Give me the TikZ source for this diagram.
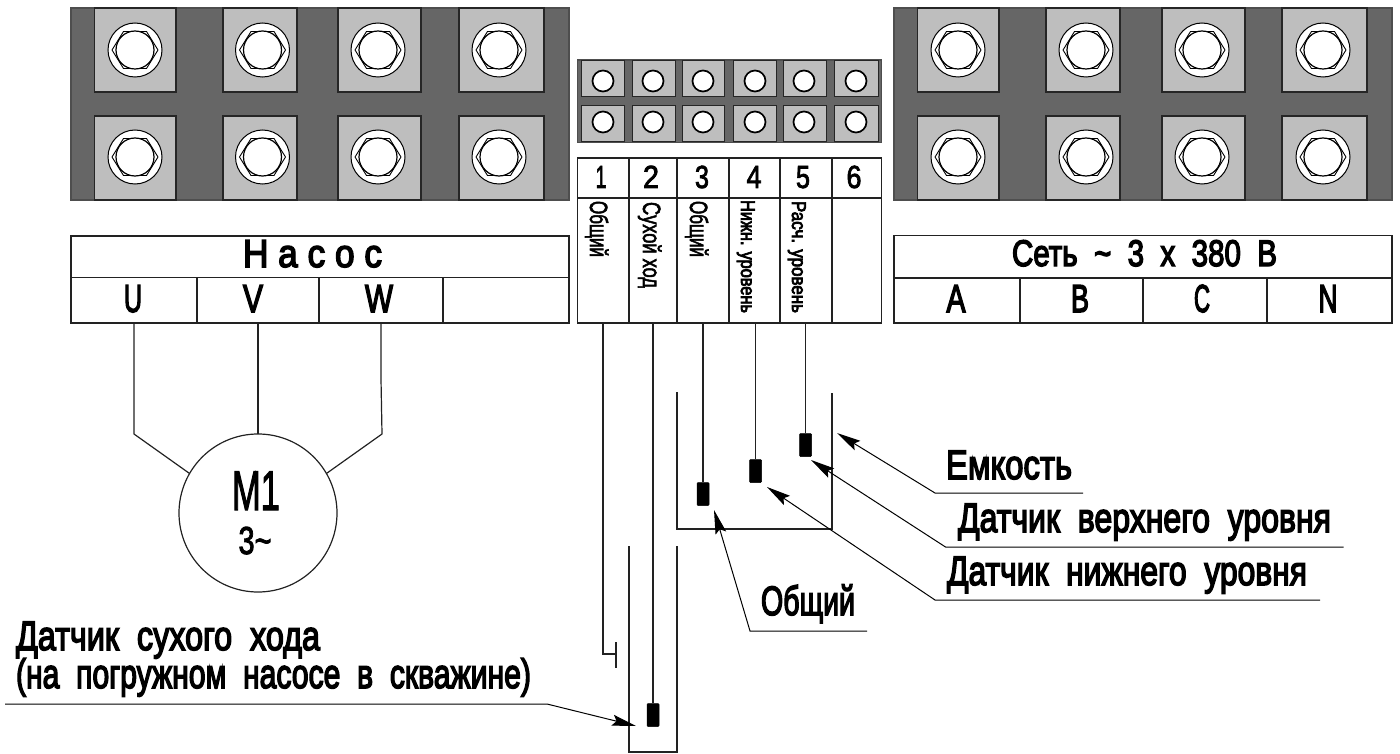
\documentclass[tikz,border=0pt]{standalone}
\usepackage{fontspec}
\usepackage{graphicx}
\setmainfont{Liberation Sans}
\newfontfamily\gost[FakeBold=4]{Liberation Sans}
\newfontfamily\gostthin[FakeBold=2.5]{Liberation Sans}
\usetikzlibrary{arrows.meta}
\definecolor{darkblock}{HTML}{666666}
\definecolor{lightpad}{HTML}{BEBEBE}
\definecolor{inkline}{HTML}{222222}
\tikzset{
  blockbody/.style={fill=darkblock,draw=inkline!80!white,line width=1.2pt},
  pad/.style={fill=lightpad,draw=black!85,line width=1.1pt},
  padsmall/.style={fill=lightpad,draw=black!85,line width=1pt},
  cellline/.style={draw=inkline,line width=1.2pt},
  wire/.style={draw=inkline,line width=1.2pt},
  leader/.style={draw=black,line width=1pt,-{Stealth[length=24pt,width=11pt,inset=4pt]},shorten >=0pt},
  sensor/.style={fill=black,draw=black,line width=0.5pt,rounded corners=1pt,inner sep=0pt,minimum width=12pt,minimum height=23pt},
  txt/.style={inner sep=0pt,outer sep=0pt,text=black},
}
\newcommand{\lblw}[7][]{\node[txt,anchor=base west,#1] (#2) at (#3,#4) {\resizebox{#5pt}{\height}{\fontsize{#6pt}{#6pt}\selectfont\gost #7}};}
\newcommand{\lblt}[7][]{\node[txt,anchor=base west,#1] (#2) at (#3,#4) {\resizebox{#5pt}{\height}{\fontsize{#6pt}{#6pt}\selectfont\gostthin #7}};}
\newcommand{\lblc}[7][]{\node[txt,anchor=base,#1] (#2) at (#3,#4) {\resizebox{#5pt}{\height}{\fontsize{#6pt}{#6pt}\selectfont\gost #7}};}
\newcommand{\lbld}[7][]{\node[txt,anchor=base,#1] (#2) at (#3,#4) {\resizebox{#5pt}{\height}{\fontsize{#6pt}{#6pt}\selectfont\gostthin #7}};}
\newcommand{\boltbig}[2]{%
  \begin{scope}[shift={(#1,#2)}]
    \fill[white,draw=black,line width=1pt] (0,0) circle[radius=27];
    \draw[black,line width=0.9pt,line join=round] (-23,0)--(-11.5,-18.5)--(11.5,-18.5)--(23,0)--(11.5,18.5)--(-11.5,18.5)--cycle;
    \fill[white,draw=black,line width=1.2pt] (0,0) circle[radius=19];
  \end{scope}}
\newcommand{\boltsmall}[2]{\fill[white,draw=black,line width=1.7pt] (#1,#2) circle[radius=10.5];}
\begin{document}
\begin{tikzpicture}[x=1pt,y=-1pt]
\useasboundingbox (0,0) rectangle (1400,754);
% left terminal block
\draw[blockbody] (71,8) rectangle (569,200);
\foreach \a/\b in {94.5/176,223/297,338/421,459/544}{
  \draw[pad] (\a,8) rectangle (\b,92);
  \draw[pad] (\a,116) rectangle (\b,200);
}
\foreach \c in {135,262.5,378,499}{\boltbig{\c}{50}\boltbig{\c}{157}}
% right terminal block
\draw[blockbody] (894,8) rectangle (1392,200);
\foreach \a/\b in {917.5/999,1046/1120,1162/1245,1282/1367}{
  \draw[pad] (\a,8) rectangle (\b,92);
  \draw[pad] (\a,116) rectangle (\b,200);
}
\foreach \c in {958,1086,1202,1323}{\boltbig{\c}{50}\boltbig{\c}{157}}
% middle terminal block
\draw[blockbody] (577.5,60) rectangle (881.5,142.5);
\foreach \a/\b in {581/624,632/675,682/724,733/776,783/826,834/878}{
  \draw[padsmall] (\a,61) rectangle (\b,97);
  \draw[padsmall] (\a,106) rectangle (\b,142);
}
\foreach \c in {603,653,703,755,804,856}{\boltsmall{\c}{81}\boltsmall{\c}{122}}
% pump table
\draw[cellline] (71,236) rectangle (569,323);
\draw[cellline] (71,277.5) -- (569,277.5);
\foreach \c in {197,319,443}{\draw[cellline] (\c,277.5) -- (\c,323);}
% mains table
\draw[cellline] (894,235.5) rectangle (1392,323);
\draw[cellline] (894,278) -- (1392,278);
\foreach \c in {1020,1143,1267}{\draw[cellline] (\c,278) -- (\c,323);}
% sensor table
\draw[cellline] (577.5,158) rectangle (881.5,323);
\draw[cellline] (577.5,198) -- (881.5,198);
\foreach \c in {629,677,729,780,832}{\draw[cellline] (\c,158) -- (\c,323);}
% table texts
\lblw{nasos}{243}{267}{139}{39}{Н а с о с}
\lblw{setl}{1012}{266}{265}{37}{Сеть\ \ \textasciitilde\ \ 3\ \ х\ \ 380\ \ В}
\lblc{tU}{133}{312}{18}{39}{U}
\lblc{tV}{253}{312}{20}{39}{V}
\lblc{tW}{379}{312}{28}{39}{W}
\lblc{tA}{956}{312}{19}{39}{A}
\lblc{tB}{1080}{312}{18}{39}{B}
\lblc{tC}{1202}{312}{16}{39}{C}
\lblc{tN}{1328}{312}{19}{39}{N}
\lbld{n1}{601}{188}{11}{32}{1}
\lbld{n2}{651}{188}{16}{32}{2}
\lbld{n3}{702}{188}{14}{32}{3}
\lbld{n4}{754}{188}{15}{32}{4}
\lbld{n5}{803}{188}{14}{32}{5}
\lbld{n6}{854}{188}{15}{32}{6}
% rotated texts
\lblt[rotate=-90]{r1}{590}{201}{56}{25}{Общий}
\lblt[rotate=-90]{r2}{643}{202}{86}{25}{Сухой ход}
\lblt[rotate=-90]{r3}{690}{201}{56}{25}{Общий}
\lblw[rotate=-90]{r4}{741}{200}{113}{20}{Нижн. уровень}
\lblw[rotate=-90]{r5}{792}{201}{112}{20}{Расч. уровень}
% motor
\node[draw=inkline,line width=1.2pt,circle,minimum size=158pt,inner sep=0pt,outer sep=0pt] (motor) at (258,513) {};
\lbld{m1}{256}{510}{48}{56}{M1}
\lbld{m3}{255}{554}{33}{39}{3\textasciitilde}
\coordinate (wU) at (134,323); \coordinate (wV) at (258,323); \coordinate (wW) at (381,323);
\coordinate (kU) at (134,434); \coordinate (kW) at (382,434); \coordinate (kW0) at (381,379);
\draw[wire] (wU) -- (kU) -- (motor.150);
\draw[wire] (wV) -- (motor.north);
\draw[wire] (wW) -- (kW0) -- (kW) -- (motor.30);
% tank and well
\coordinate (tankL) at (677,392); \coordinate (tankBL) at (677,529);
\coordinate (tankBR) at (832,529); \coordinate (tankR) at (832,393);
\draw[wire] (tankL) -- (tankBL) -- (tankBR) -- (tankR);
\coordinate (wellL) at (629,546); \coordinate (wellBL) at (629,752);
\coordinate (wellBR) at (677,752); \coordinate (wellR) at (677,546);
\draw[wire] (wellL) -- (wellBL) -- (wellBR) -- (wellR);
% sensors
\node[sensor] (s2) at (653,715) {};
\node[sensor] (s3) at (703,494) {};
\node[sensor] (s4) at (755.5,471) {};
\node[sensor] (s5) at (805.5,445) {};
\coordinate (t1) at (603,323); \coordinate (t2) at (653,323);
\coordinate (t3) at (703,323); \coordinate (t4) at (755.5,323); \coordinate (t5) at (805.5,323);
\draw[wire] (t2) -- (s2.north);
\draw[wire] (t3) -- (s3.north);
\draw[wire] (t4) -- (s4.north);
\draw[wire] (t5) -- (s5.north);
\coordinate (c1a) at (603,654); \coordinate (c1b) at (616,654);
\coordinate (tickT) at (616,642); \coordinate (tickB) at (616,668);
\draw[wire] (t1) -- (c1a) -- (c1b);
\draw[wire] (tickT) -- (tickB);
% callouts
\coordinate (e0) at (1083,493); \coordinate (e1) at (935,493); \coordinate (e2) at (837,433);
\draw[leader] (e0) -- (e1) -- (e2);
\coordinate (v0) at (1343.5,547); \coordinate (v1) at (945.5,547); \coordinate (v2) at (811,460);
\draw[leader] (v0) -- (v1) -- (v2);
\coordinate (n0) at (1320,600); \coordinate (n1c) at (935,600); \coordinate (n2c) at (767,487);
\draw[leader] (n0) -- (n1c) -- (n2c);
\coordinate (o0) at (867,631); \coordinate (o1) at (750,631); \coordinate (o2) at (714,510);
\draw[leader] (o0) -- (o1) -- (o2);
\coordinate (d0) at (5,704); \coordinate (d1) at (547,704); \coordinate (d2) at (636,726);
\draw[leader] (d0) -- (d1) -- (d2);
\lblw{lE}{946}{479}{126}{41}{Емкость}
\lblw{lV}{958}{532}{373}{41}{Датчик\ \ верхнего\ \ уровня}
\lblw{lN}{947}{585}{360}{41}{Датчик\ \ нижнего\ \ уровня}
\lblw{lO}{761}{615}{94}{41}{Общий}
\lblw{lS}{16}{650}{304}{41}{Датчик\ \ сухого\ \ хода}
\lblw{lP}{16}{688}{515}{41}{(на\ \ погружном\ \ насосе\ \ в\ \ скважине)}
\end{tikzpicture}
\end{document}
